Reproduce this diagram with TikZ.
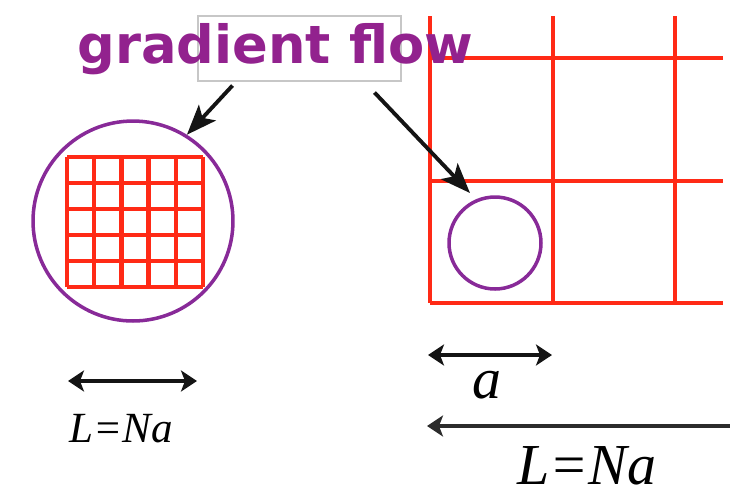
\documentclass[tikz,border=0pt]{standalone}
\usepackage{fontspec}
\setmainfont{Liberation Serif}
\newfontfamily\gradfont{DejaVu Sans}
\usetikzlibrary{arrows.meta,positioning,calc}
\definecolor{gfpurple}{RGB}{146,34,142}
\definecolor{ringpurple}{RGB}{136,42,152}
\definecolor{gridred}{RGB}{255,42,22}
\definecolor{arrgray}{RGB}{20,20,20}
\begin{document}
\begin{tikzpicture}[
  x=0.02cm, y=-0.02cm,
  ring/.style={circle, draw=ringpurple, line width=2pt, inner sep=0pt},
  finegrid/.style={draw=gridred, line width=2.5pt},
  coarsegrid/.style={draw=gridred, line width=2.5pt},
  arr/.style={-{Stealth[length=0.6cm, width=0.46cm, inset=0.14cm]}, draw=arrgray, line width=2.2pt},
  darr/.style={{Stealth[length=0.32cm, width=0.42cm, inset=0.08cm]}-{Stealth[length=0.32cm, width=0.42cm, inset=0.08cm]}, draw=arrgray, line width=1.9pt},
  larr/.style={{Stealth[length=0.32cm, width=0.42cm, inset=0.08cm]}-, draw=arrgray!90, line width=1.9pt},
  lab/.style={inner sep=0pt, font=\itshape}
]
\useasboundingbox (0,0) rectangle (736,495);

% left: coarse-grained circle over fine lattice
\foreach \i in {0,...,5}{
  \draw[finegrid] (67+27.2*\i,157) -- (67+27.2*\i,287);
  \draw[finegrid] (67,157+26*\i) -- (203,157+26*\i);
}
\node[ring, minimum size=4cm] (bigc) at (133,221) {};

% right: coarse lattice with small circle
\foreach \x in {430,553,675}
  \draw[coarsegrid] (\x,16) -- (\x,303);
\foreach \y in {58,181,303}
  \draw[coarsegrid] (430,\y) -- (723,\y);
\node[ring, minimum size=1.84cm] (smallc) at (495,243) {};

% label box and arrows
\node[draw=black!22, line width=0.6pt, minimum width=4.06cm, minimum height=1.3cm, inner sep=0pt] (lbl) at (299.5,48.5) {};
\node[anchor=base west, inner sep=0pt, text=gfpurple, font=\gradfont\bfseries\fontsize{30}{34}\selectfont] (gf) at (77,63) {gradient flow};
\draw[arr] ($(lbl.south west)+(35,4)$) -- (bigc.58);
\draw[arr] ($(lbl.south west)+(177,11)$) -- ($(smallc.center)+(-25,-50)$);

% scales
\coordinate (la1) at (68,381);
\coordinate (la2) at (197,381);
\draw[darr] (la1) -- (la2);
\node[lab, anchor=base, font=\itshape\fontsize{24.5}{28}\selectfont] (lL) at (121,442) {L=Na};

\coordinate (ra1) at (428,355);
\coordinate (ra2) at (552,355);
\draw[darr] (ra1) -- (ra2);
\node[lab, anchor=base, font=\itshape\fontsize{33}{38}\selectfont] (ra) at (487,398) {a};

\coordinate (rb1) at (427,426);
\coordinate (rb2) at (730,426);
\draw[larr] (rb1) -- (rb2);
\node[lab, anchor=base, font=\itshape\fontsize{33}{38}\selectfont] (rL) at (587,484) {L=Na};
\end{tikzpicture}
\end{document}
